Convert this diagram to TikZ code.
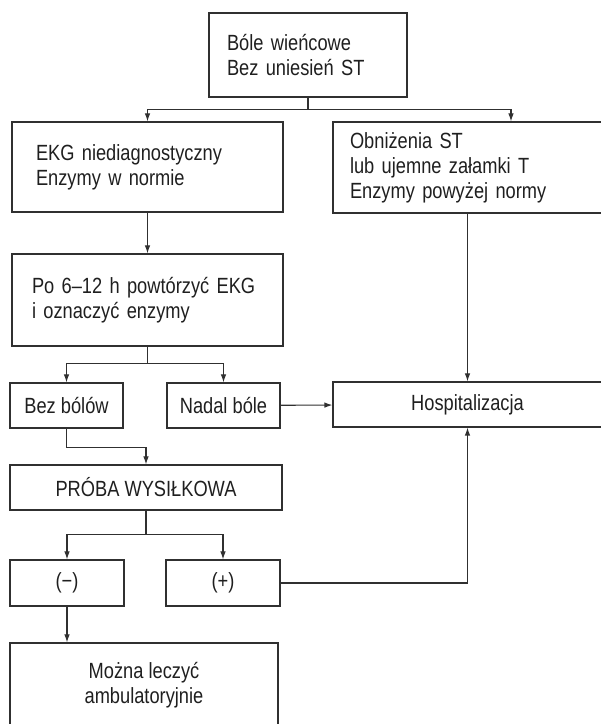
\documentclass[tikz,border=0pt]{standalone}
\usepackage{fontspec}
\setmainfont{Liberation Sans}[FakeStretch=0.83]
\usetikzlibrary{arrows.meta}

\definecolor{linegray}{HTML}{303030}
\tikzset{
  box/.style={draw=linegray,line width=1.1bp,inner ysep=0pt,text=black!88,font=\fontsize{22bp}{25bp}\selectfont},
  leftbox/.style={box,align=left},
  midbox/.style={box,align=center,inner xsep=0pt},
}

\begin{document}
\begin{tikzpicture}[>={Latex[length=8bp,width=5.5bp]},line width=1.1bp]
\useasboundingbox (0bp,0bp) rectangle (601bp,724bp);
%%
\node (node_bole) at (308bp,669bp) [leftbox,minimum height=84bp,text width=162bp,inner xsep=18bp] {Bóle wieńcowe\\Bez uniesień ST};
  \node (node_ekg) at (147.5bp,557bp) [leftbox,minimum height=90bp,text width=223bp,inner xsep=24bp] {EKG niediagnostyczny\\Enzymy w normie};
  \node (node_obn) at (467.5bp,556.5bp) [leftbox,minimum height=91bp,text width=235bp,inner xsep=17bp] {Obniżenia ST\\lub ujemne załamki T\\Enzymy powyżej normy};
  \node (node_po) at (147.5bp,424bp) [leftbox,minimum height=92bp,text width=231bp,inner xsep=20bp] {Po 6–12 h powtórzyć EKG\\i oznaczyć enzymy};
  \node (node_bez) at (66.5bp,318.5bp) [midbox,minimum width=113bp,minimum height=45bp] {Bez bólów};
  \node (node_nadal) at (223.5bp,318.5bp) [midbox,minimum width=113bp,minimum height=45bp] {Nadal bóle};
  \node (node_hosp) at (467.5bp,319.5bp) [midbox,minimum width=269bp,minimum height=45bp] {Hospitalizacja};
  \node (node_proba) at (146bp,236.5bp) [midbox,minimum width=272bp,minimum height=45bp] {PRÓBA WYSIŁKOWA};
  \node (node_neg) at (67bp,141bp) [midbox,minimum width=114bp,minimum height=46bp] {(−)};
  \node (node_pos) at (223bp,141bp) [midbox,minimum width=114bp,minimum height=46bp] {(+)};
  \node (node_leczyc) at (144bp,38.5bp) [midbox,minimum width=268bp,minimum height=85bp] {Można leczyć\\ambulatoryjnie};
  \draw [linegray,->] (node_bole.south) -- ++(0,-12bp) -| (node_ekg.north);
  \draw [linegray,->] (node_bole.south) -- ++(0,-12bp) -| ([xshift=43.5bp]node_obn.north);
  \draw [linegray,->] (node_ekg) -- (node_po);
  \draw [linegray,->] (node_obn) -- (node_hosp);
  \draw [linegray,->] (node_po.south) -- ++(0,-17bp) -| (node_bez.north);
  \draw [linegray,->] (node_po.south) -- ++(0,-17bp) -| (node_nadal.north);
  \draw [linegray,->] (node_nadal) -- (node_hosp);
  \draw [linegray,->] (node_bez.south) -- ++(0,-19bp) -| (node_proba.north);
  \draw [linegray,->] (node_proba.south) -- ++(0,-24bp) -| (node_neg.north);
  \draw [linegray,->] (node_proba.south) -- ++(0,-24bp) -| (node_pos.north);
  \draw [linegray,->] (node_pos.east) -| (node_hosp.south);
  \draw [linegray,->] (node_neg.south) -- (node_neg.south |- node_leczyc.north);
%
\end{tikzpicture}
\end{document}
